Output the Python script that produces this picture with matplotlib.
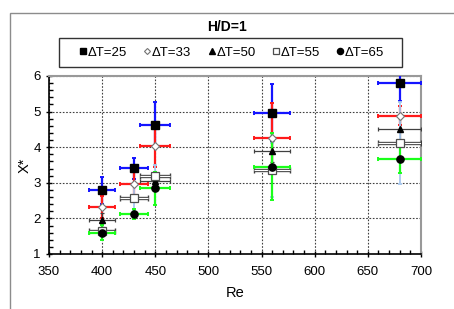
import matplotlib
matplotlib.use("Agg")
import matplotlib.pyplot as plt
from matplotlib.patches import Rectangle
from matplotlib.ticker import MultipleLocator

plt.rcParams["font.family"] = ["Liberation Sans", "DejaVu Sans"]

# data (Re, X* and error half-widths)
re_all = [400, 430, 450, 560, 680]
xerr_all = [12, 13, 14, 17, 20]

x25 = [2.79, 3.41, 4.63, 4.96, 5.81]
yerr25 = [0.38, 0.30, 0.63, 0.82, 0.52]

x33 = [2.32, 2.96, 4.04, 4.25, 4.89]
yerr33 = [0.30, 0.40, 0.60, 1.00, 0.27]

re50 = [400, 450, 560, 680]
xerr50 = [12, 14, 17, 20]
x50 = [1.95, 3.05, 3.88, 4.51]
yerr50 = [0.20, 0.20, 0.30, 0.30]

x55 = [1.65, 2.56, 3.20, 3.36, 4.13]
yerr55 = [0.25, 0.35, 0.30, 0.75, 1.15]

x65 = [1.60, 2.12, 2.84, 3.45, 3.67]
yerr65 = [0.22, 0.15, 0.47, 0.94, 0.40]

BLUE = "#1414ff"
RED = "#ff1a1a"
GREEN = "#1aff1a"
GREY = "#404040"
LBLUE = "#a8c8ee"

fig = plt.figure(figsize=(4.54, 3.09), dpi=100)
ax = fig.add_axes([49 / 454, 55 / 309, 372 / 454, 178 / 309])

# outer chart frame (cut off at right/bottom like the source)
fig.patches.append(Rectangle((10 / 454, -0.1), 1.2, 1.1 - 13 / 309,
                             transform=fig.transFigure, fill=False,
                             edgecolor="0.55", lw=1.0, zorder=0))
# legend box
fig.patches.append(Rectangle((59 / 454, 1 - 67 / 309), 343 / 454, 29 / 309,
                             transform=fig.transFigure, fill=False,
                             edgecolor="0.2", lw=1.0, zorder=1))

eb = dict(fmt="none", capsize=1.5, elinewidth=1.6, capthick=1.4)
ax.errorbar(re_all, x25, xerr=xerr_all, yerr=yerr25, ecolor=BLUE, zorder=3, **eb)
ax.errorbar(re_all, x33, xerr=xerr_all, yerr=yerr33, ecolor=RED, zorder=3.1, **eb)
ax.errorbar(re50, x50, xerr=xerr50, yerr=yerr50, fmt="none", ecolor=GREY,
            elinewidth=0.9, capsize=1.5, capthick=0.9, zorder=3.2)
ax.errorbar(re_all, x55, yerr=yerr55, fmt="none", ecolor=LBLUE,
            elinewidth=1.3, capsize=1.5, capthick=1.3, zorder=3.3)
ax.errorbar(re_all, x55, xerr=xerr_all, fmt="none", ecolor=GREY,
            elinewidth=2.4, capsize=2.0, capthick=1.0, zorder=3.3)
ax.errorbar(re_all, x55, xerr=xerr_all, fmt="none", ecolor="white",
            elinewidth=0.9, capsize=0, zorder=3.35)
ax.errorbar(re_all, x65, xerr=xerr_all, yerr=yerr65, ecolor=GREEN, zorder=3.4, **eb)

ax.plot(re_all, x25, "s", color="black", ms=5.2, ls="none", zorder=5, label="ΔT=25")
ax.plot(re_all, x33, "D", mfc="white", mec="0.45", mew=0.8, ms=3.6, ls="none",
        zorder=5, label="ΔT=33")
ax.plot(re50, x50, "^", color="black", ms=5, ls="none", zorder=5, label="ΔT=50")
ax.plot(re_all, x55, "s", mfc="white", mec="0.3", mew=0.9, ms=5.2, ls="none",
        zorder=5, label="ΔT=55")
ax.plot(re_all, x65, "o", color="black", ms=5.2, ls="none", zorder=5, label="ΔT=65")

ax.set_xlim(350, 700)
ax.set_ylim(1, 6)
ax.xaxis.set_major_locator(MultipleLocator(50))
ax.xaxis.set_minor_locator(MultipleLocator(10))
ax.yaxis.set_major_locator(MultipleLocator(1))
ax.yaxis.set_minor_locator(MultipleLocator(0.2))
ax.tick_params(which="major", direction="inout", length=5, width=1,
               labelsize=9.5, color="black")
ax.tick_params(which="minor", direction="in", length=3, width=1)
ax.tick_params(axis="x", pad=6)
ax.grid(True, which="major", ls=(0, (1.5, 1.5)), color="0.25", lw=0.8)
ax.set_axisbelow(True)
for s in ("left", "bottom"):
    ax.spines[s].set_color("black")
    ax.spines[s].set_linewidth(1.2)
for s in ("top", "right"):
    ax.spines[s].set_color("0.6")
    ax.spines[s].set_linewidth(1.5)

ax.set_xlabel("Re", fontsize=10.5, labelpad=6)
ax.set_ylabel("X*", fontsize=10.5, labelpad=1)

fig.text(227 / 454, 1 - 27 / 309, "H/D=1", ha="center", va="center",
         fontsize=10, fontweight="bold")

leg = fig.legend(loc="center", bbox_to_anchor=(232 / 454, 1 - 52.5 / 309),
                 ncol=5, fontsize=9.5, frameon=False,
                 handlelength=0.5, handletextpad=0.1, columnspacing=1.3,
                 borderpad=0.3, markerscale=0.85)

fig.savefig("out.png", dpi=100)
